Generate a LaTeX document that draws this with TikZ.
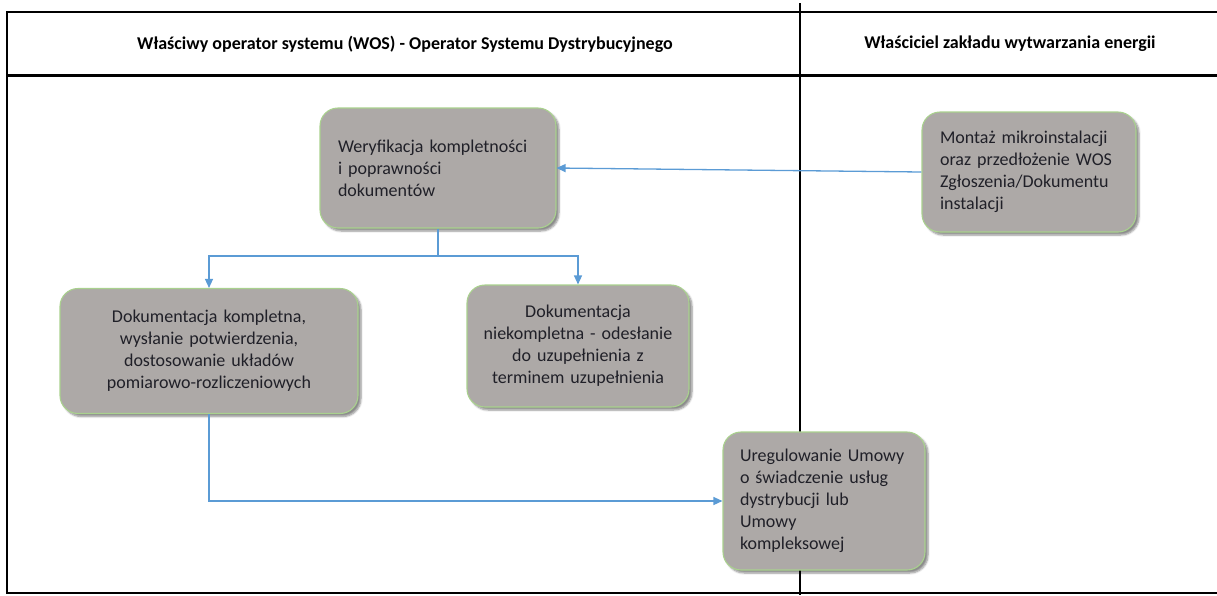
\documentclass[tikz,border=0pt]{standalone}
\usepackage{fontspec}
\setmainfont{Carlito}
\usetikzlibrary{arrows.meta,shadows.blur}
\definecolor{boxfill}{RGB}{173,169,167}
\definecolor{boxline}{RGB}{169,209,142}
\definecolor{arrblue}{RGB}{91,155,213}
\definecolor{txtcol}{RGB}{32,32,40}
\tikzset{
  frameline/.style={draw=black,line width=2pt},
  stepbox/.style={rounded corners=18pt, fill=boxfill, draw=boxline, line width=1.1pt,
    blur shadow={shadow xshift=3pt, shadow yshift=-3pt, shadow blur steps=6, shadow opacity=45},
    font=\fontsize{18}{22}\selectfont, text=txtcol, inner ysep=6pt},
  leftbox/.style={stepbox, align=left, inner xsep=18pt},
  ctrbox/.style={stepbox, align=center, inner xsep=10pt},
  arr/.style={draw=arrblue, line width=1.3pt, -{Triangle[length=9pt,width=8pt]}},
  head/.style={font=\fontsize{18}{20}\selectfont\bfseries, text=black},
}
\begin{document}
\begin{tikzpicture}[x=1pt,y=1pt]
\useasboundingbox (0,0) rectangle (1217,-595);
% frame
\draw[frameline] (1217,-12) -- (7,-12) -- (7,-593) -- (1217,-593);
\draw[black,line width=3pt] (7,-75) -- (1217,-75);
\draw[black,line width=1.6pt] (800,-3) -- (800,-595);
\node[head] (h1) at (405,-44) {Właściwy operator systemu (WOS) - Operator Systemu Dystrybucyjnego};
\node[head] (h2) at (1010,-44) {Właściciel zakładu wytwarzania energii};
% boxes
\node[leftbox, text width=200pt, minimum width=236pt, minimum height=120pt] (v) at (438,-168)
  {Weryfikacja~kompletności\\i~poprawności\\dokumentów};
\node[leftbox, text width=178pt, minimum width=214pt, minimum height=120pt] (m) at (1029,-172)
  {Montaż~mikroinstalacji\\oraz~przedłożenie~WOS\\Zgłoszenia/Dokumentu\\instalacji};
\node[ctrbox, text width=278pt, minimum width=298pt, minimum height=125pt] (k) at (209,-351)
  {Dokumentacja~kompletna,\\wysłanie~potwierdzenia,\\dostosowanie~układów\\pomiarowo-rozliczeniowych};
\node[ctrbox, text width=202pt, minimum width=222pt, minimum height=122pt] (n) at (578,-346)
  {Dokumentacja\\niekompletna~-~odesłanie\\do~uzupełnienia~z\\terminem~uzupełnienia};
\node[leftbox, inner xsep=17pt, text width=168pt, minimum width=202pt, minimum height=138pt] (u) at (824,-501)
  {Uregulowanie~Umowy\\o~świadczenie~usług\\dystrybucji~lub\\Umowy\\kompleksowej};
% connectors
\coordinate (j) at (438,-256);
\draw[arr] (m.west) -- (v.east);
\draw[arr] (v.south) -- (j) -| (k.north);
\draw[arr] (j) -| (n.north);
\draw[arr] (k.south) |- (u.west);
\end{tikzpicture}
\end{document}
